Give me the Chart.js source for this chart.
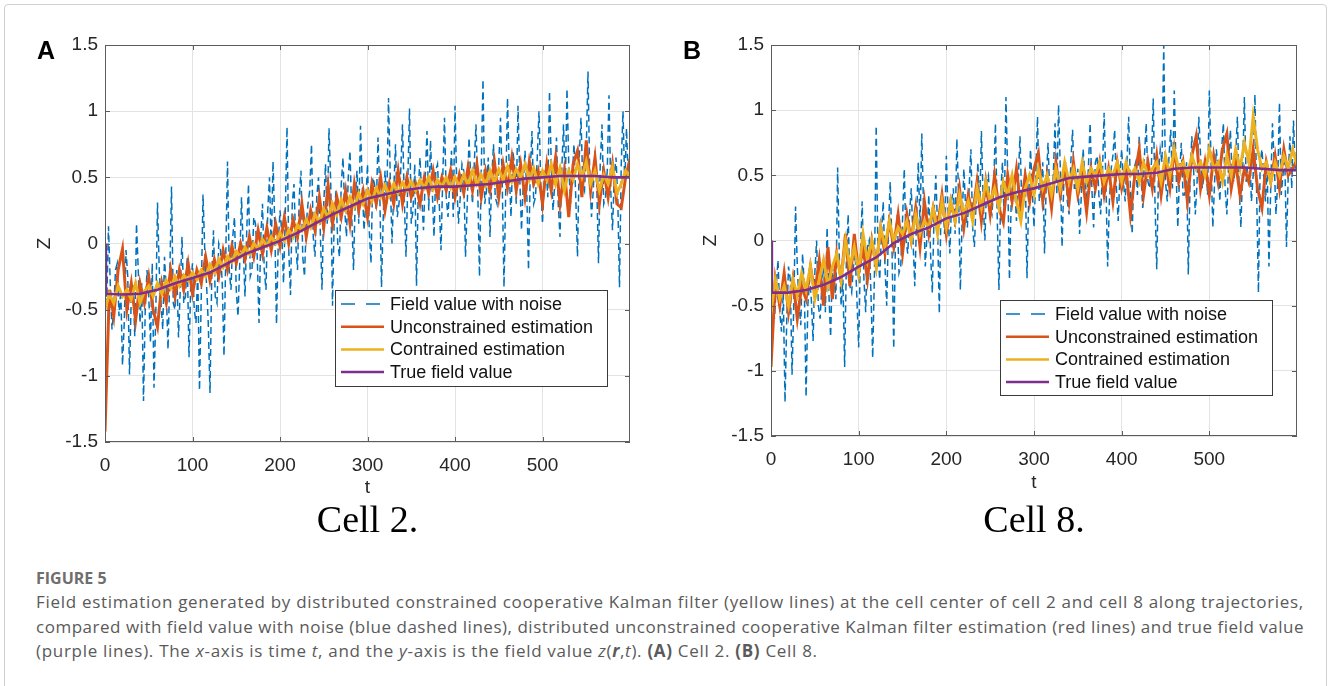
<!DOCTYPE html>
<html>
<head>
<meta charset="utf-8">
<script src="https://cdn.jsdelivr.net/npm/chart.js@4.4.1/dist/chart.umd.min.js"></script>
<style>
  body { margin: 0; background: #fff; width: 1328px; height: 686px; overflow: hidden; position: relative; }
  .panel { position: absolute; top: 0; }
  #frame { position: absolute; left: 4px; top: 4px; width: 1323px; height: 700px; border: 1px solid #d0d0d0; border-radius: 4px; box-sizing: border-box; }
  .cap { position: absolute; left: 36px; font-family: "Open Sans", Lato, sans-serif; color: #5a5a5a; font-size: 17px; white-space: nowrap; line-height: 20px; }
</style>
</head>
<body>
<div id="frame"></div>
<canvas id="chartA" class="panel" style="left:0px" width="660" height="545"></canvas>
<canvas id="chartB" class="panel" style="left:660px" width="668" height="545"></canvas>

<div class="cap" style="top:568px; font-weight:700; color:#6e6e6e; font-size:16px;">FIGURE 5</div>
<div class="cap" id="cap1" style="top:592px">Field estimation generated by distributed constrained cooperative Kalman filter (yellow lines) at the cell center of cell 2 and cell 8 along trajectories,</div>
<div class="cap" id="cap2" style="top:617px">compared with field value with noise (blue dashed lines), distributed unconstrained cooperative Kalman filter estimation (red lines) and true field value</div>
<div class="cap" id="cap3" style="top:641px">(purple lines). The <i>x</i>-axis is time <i>t</i>, and the <i>y</i>-axis is the field value <i>z</i>(<b><i>r</i></b>,<i>t</i>). <b>(A)</b> Cell 2. <b>(B)</b> Cell 8.</div>

<script>
// axis ticks (same for both cells)
const xTicks = [0, 100, 200, 300, 400, 500];
const yTicks = [-1.5, -1, -0.5, 0, 0.5, 1, 1.5];
const yTickLabels = ['-1.5', '-1', '-0.5', '0', '0.5', '1', '1.5'];

const seriesNames = ['Field value with noise', 'Unconstrained estimation', 'Contrained estimation', 'True field value'];
const seriesColors = ['#0072BD', '#D95319', '#EDB120', '#7E2F8E'];

// noisy field samples every 2 steps, estimates every 5 steps
const noiseStep = 2;
const estStep = 5;

// ---- Cell 2 ----
const noiseA = [
  -0.1, -0.45, 0.13, -0.3, -0.65, -0.5, -0.2, -0.15, -0.55, -0.35, -0.92, -0.6, -0.05, -0.25, -0.99, -0.4, -0.3, -0.7, 0.15, -0.2,
  -0.6, -0.3, -1.19, -0.5, -0.2, -0.4, -0.75, -0.15, -1.09, -0.55, 0.31, -0.2, -0.45, -0.65, -0.1, -0.35, -0.8, -0.25, 0.43, -0.45,
  -0.5, -0.2, -0.71, -0.35, 0.05, -0.45, -0.4, -0.1, -0.86, -0.3, -0.15, -0.5, -0.6, -0.2, -1.11, -0.4, 0.37, -0.05, -0.3, -0.6,
  -1.13, -0.25, 0.1, -0.4, -0.45, 0.0, -0.05, -0.3, -0.85, -0.1, 0.62, -0.2, -0.35, 0.05, 0.2, -0.35, -0.55, -0.15, 0.35, -0.05,
  -0.4, 0.1, 0.45, -0.25, -0.2, 0.2, 0.15, -0.1, -0.6, 0.05, 0.3, -0.2, -0.35, 0.25, 0.5, -0.05, 0.62, 0.15, -0.61, 0.0,
  0.25, 0.1, -0.3, 0.2, 0.88, -0.05, -0.39, 0.3, 0.45, 0.0, -0.2, 0.35, 0.55, -0.1, -0.25, 0.15, 0.3, 0.4, 0.75, 0.05,
  -0.1, 0.35, 0.5, 0.1, -0.35, 0.3, 0.6, 0.15, 0.87, 0.45, -0.47, 0.2, 0.4, 0.0, -0.1, 0.45, 0.65, 0.25, 0.05, 0.5,
  0.7, 0.2, -0.2, 0.35, 0.55, 0.15, 0.89, 0.45, 0.1, 0.3, 0.6, 0.1, -0.15, 0.5, 0.45, 0.25, 0.8, 0.4, -0.33, 0.2,
  0.55, 0.3, 1.10, 0.5, 0.0, 0.4, 0.75, 0.2, 0.3, 0.55, 0.9, 0.35, -0.1, 0.45, 1.02, 0.15, 0.25, 0.6, -0.32, 0.4,
  0.65, 0.35, 0.1, 0.5, 0.85, 0.25, 0.78, 0.4, 0.05, 0.55, 0.6, 0.3, -0.05, 0.5, 0.95, 0.35, 0.2, 0.45, 0.7, 0.2,
  1.04, 0.45, 0.15, 0.35, 0.6, 0.55, -0.1, 0.3, 0.8, 0.5, 0.3, 0.6, 0.9, 0.4, -0.25, 0.55, 1.24, 0.3, 0.4, 0.65,
  0.05, 0.5, 0.75, 0.35, 0.3, 0.6, 0.95, 0.45, -0.33, 0.4, 1.10, 0.55, 0.2, 0.7, 0.6, 0.3, 1.04, 0.5, 0.1, 0.45,
  0.7, 0.4, -0.2, 0.55, 0.85, 0.3, 0.35, 0.65, 1.0, 0.45, 0.15, 0.5, 0.6, 0.35, 1.15, 0.6, 0.25, 0.45, 0.8, 0.3,
  0.05, 0.55, 0.9, 0.4, 1.17, 0.6, 0.3, 0.5, 0.75, 0.35, -0.1, 0.65, 0.95, 0.45, 0.4, 0.7, 1.30, 0.5, 0.2, 0.4,
  0.7, 0.45, -0.15, 0.6, 0.9, 0.3, 0.35, 0.55, 1.12, 0.4, 0.1, 0.5, 0.65, 0.35, -0.33, 0.6, 1.0, 0.45, 0.87, 0.5
];
const unconA = [
  -1.42, -0.35, -0.55, -0.2, -0.04, -0.5, -0.3, -0.58, -0.3, -0.45,
  -0.25, -0.5, -0.63, -0.3, -0.45, -0.2, -0.4, -0.2, -0.35, -0.15,
  -0.38, -0.2, -0.3, -0.1, -0.28, -0.12, -0.25, -0.05, -0.2, -0.02,
  -0.15, 0.0, -0.12, 0.05, -0.1, 0.1, -0.08, 0.12, -0.05, 0.15,
  -0.02, 0.2, 0.0, 0.18, 0.05, 0.3, 0.05, 0.25, 0.1, 0.35,
  0.12, 0.44, 0.15, 0.35, 0.2, 0.4, 0.15, 0.45, 0.25, 0.4,
  0.2, 0.45, 0.3, 0.5, 0.25, 0.45, 0.3, 0.55, 0.3, 0.5,
  0.35, 0.45, 0.3, 0.5, 0.38, 0.55, 0.35, 0.5, 0.4, 0.55,
  0.35, 0.52, 0.38, 0.58, 0.4, 0.6, 0.35, 0.55, 0.4, 0.62,
  0.35, 0.6, 0.42, 0.65, 0.4, 0.6, 0.35, 0.62, 0.45, 0.55,
  0.3, 0.6, 0.4, 0.65, 0.3, 0.55, 0.2, 0.6, 0.7, 0.35,
  0.78, 0.4, 0.65, 0.3, 0.55, 0.35, 0.6, 0.3, 0.27, 0.5,
  0.64
];
const conA = [
  -0.5, -0.38, -0.45, -0.32, -0.4, -0.35, -0.42, -0.3, -0.45, -0.36,
  -0.32, -0.4, -0.3, -0.38, -0.28, -0.34, -0.25, -0.32, -0.24, -0.28,
  -0.22, -0.27, -0.2, -0.25, -0.16, -0.22, -0.12, -0.18, -0.1, -0.14,
  -0.06, -0.1, -0.03, -0.08, 0.0, -0.04, 0.03, -0.02, 0.05, 0.0,
  0.08, 0.02, 0.1, 0.05, 0.14, 0.1, 0.18, 0.12, 0.22, 0.16,
  0.26, 0.2, 0.3, 0.22, 0.33, 0.25, 0.35, 0.28, 0.38, 0.3,
  0.4, 0.32, 0.42, 0.35, 0.44, 0.36, 0.45, 0.38, 0.46, 0.4,
  0.47, 0.4, 0.48, 0.42, 0.5, 0.41, 0.48, 0.43, 0.5, 0.42,
  0.5, 0.43, 0.52, 0.44, 0.55, 0.45, 0.52, 0.44, 0.55, 0.46,
  0.56, 0.48, 0.58, 0.47, 0.56, 0.5, 0.6, 0.48, 0.57, 0.45,
  0.55, 0.48, 0.6, 0.45, 0.57, 0.4, 0.55, 0.48, 0.6, 0.5,
  0.62, 0.45, 0.55, 0.4, 0.52, 0.45, 0.58, 0.38, 0.45, 0.55,
  0.5
];
const trueT = [0, 1, 20, 40, 60, 80, 100, 120, 140, 160, 180, 200, 220, 240, 260, 280, 300,
  320, 340, 360, 380, 400, 420, 440, 460, 480, 500, 520, 540, 560, 580, 600];
const trueA = [0, -0.38, -0.385, -0.38, -0.35, -0.3, -0.26, -0.22, -0.15, -0.08, -0.03, 0.02, 0.08, 0.15, 0.22, 0.28, 0.34,
  0.37, 0.40, 0.42, 0.43, 0.43, 0.44, 0.45, 0.47, 0.49, 0.5, 0.51, 0.51, 0.51, 0.5, 0.5];

// ---- Cell 8 ----
const noiseB = [
  -0.3, -0.45, -0.6, -0.35, -0.15, -0.55, -0.7, -0.4, -1.24, -0.6, -0.2, -0.3, -1.03, -0.5, 0.26, -0.2, -0.5, -0.65, -0.1, -0.35,
  -1.2, -0.5, -0.3, -0.45, -0.77, -0.25, 0.0, -0.5, -0.6, -0.35, -0.2, -0.55, 0.1, -0.4, -0.74, -0.2, -0.3, -0.45, 0.56, -0.15,
  -0.5, -0.3, -0.97, -0.15, 0.2, -0.35, -0.4, -0.2, -0.1, -0.45, -0.82, -0.1, 0.3, -0.3, -0.55, -0.05, 0.0, -0.4, -0.9, -0.25,
  0.88, -0.1, -0.3, 0.05, 0.3, -0.2, -0.5, 0.1, 0.45, -0.05, -0.83, 0.0, 0.2, -0.25, -0.2, 0.15, 0.55, 0.0, -0.1, 0.2,
  0.4, 0.0, -0.35, 0.15, 0.6, 0.1, 0.82, 0.25, -0.2, 0.05, 0.35, -0.1, -0.4, 0.2, 0.5, 0.1, -0.56, 0.3, 0.3, 0.05,
  0.65, 0.2, -0.1, 0.3, 0.4, 0.05, 0.78, 0.35, -0.38, 0.15, 0.55, 0.25, 0.1, 0.4, 0.7, 0.1, -0.05, 0.3, 0.6, 0.2,
  0.84, 0.3, 0.0, 0.45, 0.5, 0.25, 0.2, 0.4, 0.9, 0.2, -0.38, 0.35, 0.6, 0.15, 1.10, 0.5, -0.3, 0.3, 0.45, 0.4,
  0.15, 0.45, 0.8, 0.3, 0.3, 0.55, -0.29, 0.35, 0.7, 0.4, 0.1, 0.5, 0.95, 0.3, 0.4, 0.6, -0.1, 0.45, 0.75, 0.35,
  0.25, 0.5, 0.9, 0.35, 1.04, 0.55, -0.05, 0.45, 0.6, 0.3, 0.2, 0.6, 0.85, 0.4, 0.4, 0.55, 0.05, 0.35, 0.7, 0.5,
  0.3, 0.55, 0.9, 0.4, 0.1, 0.6, 0.65, 0.35, 0.2, 0.5, 0.98, 0.45, -0.2, 0.3, 0.55, 0.65, 0.85, 0.4, 0.15, 0.5,
  0.7, 0.45, 0.3, 0.6, 0.95, 0.4, 0.05, 0.55, 0.6, 0.35, 0.8, 0.5, 0.25, 0.65, 0.9, 0.45, 0.4, 0.6, 1.09, 0.3,
  -0.22, 0.5, 0.7, 0.6, 1.5, 0.45, 0.3, 0.65, 0.85, 0.4, 1.15, 0.55, 0.1, 0.5, 0.75, 0.35, 0.35, 0.6, -0.26, 0.45,
  0.8, 0.55, 0.2, 0.45, 0.95, 0.65, 0.4, 0.5, 0.6, 0.35, 1.15, 0.6, 0.1, 0.45, 0.7, 0.55, 0.3, 0.7, 0.9, 0.4,
  0.2, 0.6, 0.85, 0.5, 0.45, 0.65, 0.95, 0.4, 0.1, 0.55, 1.1, 0.45, 0.6, 0.7, 0.3, 0.5, 1.12, 0.35, -0.4, 0.6,
  0.7, 0.5, 0.3, 0.55, -0.2, 0.4, 0.9, 0.6, 0.2, 0.45, 1.06, 0.35, 0.5, 0.65, -0.05, 0.5, 0.8, 0.4, 0.92, 0.55
];
const unconB = [
  -0.97, -0.3, -0.5, -0.25, -0.55, -0.3, -0.6, -0.35, -0.45, -0.2,
  -0.4, -0.15, -0.5, -0.05, -0.45, -0.1, -0.3, 0.05, -0.35, 0.05,
  -0.25, -0.05, -0.3, 0.0, -0.2, 0.1, -0.1, 0.15, -0.05, 0.2,
  -0.1, 0.2, 0.0, 0.25, -0.05, 0.3, 0.05, 0.25, 0.1, 0.35,
  0.05, 0.3, 0.15, 0.4, 0.1, 0.35, 0.2, 0.45, 0.15, 0.45,
  0.2, 0.5, 0.25, 0.14, 0.5, 0.3, 0.55, 0.25, 0.5, 0.3,
  0.55, 0.67, 0.3, 0.5, 0.25, 0.6, 0.35, 0.55, 0.3, 0.6,
  0.35, 0.5, 0.22, 0.55, 0.4, 0.6, 0.35, 0.55, 0.3, 0.6,
  0.4, 0.55, 0.2, 0.5, 0.7, 0.35, 0.6, 0.4, 0.65, 0.35,
  0.6, 0.4, 0.7, 0.45, 0.6, 0.3, 0.65, 0.8, 0.4, 0.6,
  0.35, 0.65, 0.45, 0.7, 0.82, 0.4, 0.6, 0.35, 0.55, 0.45,
  0.7, 0.4, 0.25, 0.6, 0.45, 0.65, 0.4, 0.7, 0.5, 0.55,
  0.62
];
const conB = [
  -0.55, -0.3, -0.45, -0.35, -0.5, -0.3, -0.42, -0.25, -0.38, -0.2,
  -0.45, -0.3, -0.15, -0.35, -0.2, -0.1, -0.3, 0.0, -0.2, -0.05,
  -0.25, 0.05, -0.15, 0.0, -0.2, 0.1, -0.05, 0.15, 0.0, 0.1,
  0.05, 0.15, 0.0, 0.2, 0.05, 0.15, 0.1, 0.25, 0.05, 0.3,
  0.1, 0.3, 0.15, 0.35, 0.2, 0.3, 0.15, 0.4, 0.25, 0.45,
  0.3, 0.4, 0.25, 0.45, 0.35, 0.5, 0.3, 0.15, 0.4, 0.5,
  0.35, 0.55, 0.4, 0.5, 0.35, 0.55, 0.4, 0.6, 0.45, 0.55,
  0.4, 0.6, 0.45, 0.55, 0.5, 0.6, 0.45, 0.55, 0.5, 0.6,
  0.45, 0.6, 0.5, 0.55, 0.45, 0.6, 0.5, 0.55, 0.6, 0.45,
  0.65, 0.5, 0.7, 0.55, 0.6, 0.5, 0.65, 0.55, 0.6, 0.5,
  0.7, 0.55, 0.6, 0.45, 0.65, 0.5, 0.7, 0.55, 0.75, 0.6,
  0.95, 0.7, 0.55, 0.6, 0.45, 0.6, 0.5, 0.65, 0.55, 0.7,
  0.58
];
const trueB = [0, -0.4, -0.4, -0.38, -0.34, -0.28, -0.2, -0.13, -0.02, 0.05, 0.1, 0.17, 0.21, 0.27, 0.33, 0.37, 0.40,
  0.44, 0.48, 0.49, 0.5, 0.51, 0.51, 0.52, 0.55, 0.56, 0.56, 0.56, 0.56, 0.55, 0.54, 0.54];

// turn a value list into {x,y} points
function stepPoints(values, step) {
  return values.map((v, i) => ({ x: i * step, y: v }));
}
function pairPoints(ts, values) {
  return values.map((v, i) => ({ x: ts[i], y: v }));
}

const tickFont = { family: '"Liberation Sans", Arial, sans-serif', size: 19 };

// box, inner ticks, labels and legend, drawn on top the way matlab does
function decorPlugin(cfg) {
  return {
    id: 'decor',
    afterDatasetsDraw(chart) {
      const ctx = chart.ctx;
      const a = chart.chartArea;
      const xs = chart.scales.x, ys = chart.scales.y;
      ctx.save();
      ctx.strokeStyle = '#5c5c5c';
      ctx.lineWidth = 1;
      ctx.strokeRect(a.left + 0.5, a.top + 0.5, a.right - a.left - 1, a.bottom - a.top - 1);
      ctx.beginPath();
      xTicks.forEach(v => {
        const px = Math.round(xs.getPixelForValue(v)) + 0.5;
        ctx.moveTo(px, a.bottom); ctx.lineTo(px, a.bottom - 5);
        ctx.moveTo(px, a.top); ctx.lineTo(px, a.top + 5);
      });
      yTicks.forEach(v => {
        const py = Math.round(ys.getPixelForValue(v)) + 0.5;
        ctx.moveTo(a.left, py); ctx.lineTo(a.left + 5, py);
        ctx.moveTo(a.right, py); ctx.lineTo(a.right - 5, py);
      });
      ctx.stroke();

      // legend box
      const L = cfg.legend;
      ctx.fillStyle = '#fff';
      ctx.fillRect(L.x, L.y, L.w, L.h);
      ctx.strokeStyle = '#3a3a3a';
      ctx.strokeRect(L.x + 0.5, L.y + 0.5, L.w, L.h);
      ctx.font = '18px "Liberation Sans", Arial, sans-serif';
      ctx.textBaseline = 'middle';
      ctx.textAlign = 'left';
      seriesNames.forEach((name, i) => {
        const cy = L.y + 14 + i * 22.7;
        ctx.beginPath();
        ctx.strokeStyle = seriesColors[i];
        ctx.lineWidth = i === 0 ? 1.5 : 2.5;
        ctx.setLineDash(i === 0 ? [14, 11] : []);
        ctx.moveTo(L.x + 6, cy); ctx.lineTo(L.x + 49, cy);
        ctx.stroke();
        ctx.setLineDash([]);
        ctx.fillStyle = '#111';
        ctx.fillText(name, L.x + 55, cy + 1);
      });

      // axis names, panel letter, cell caption
      const midX = (a.left + a.right) / 2;
      const midY = (a.top + a.bottom) / 2;
      ctx.fillStyle = '#262626';
      ctx.font = '19px "Liberation Sans", Arial, sans-serif';
      ctx.textAlign = 'center';
      ctx.textBaseline = 'middle';
      ctx.fillText('t', midX, cfg.tY);
      ctx.save();
      ctx.translate(a.left - 60, midY);
      ctx.rotate(-Math.PI / 2);
      ctx.fillText('Z', 0, 0);
      ctx.restore();

      ctx.fillStyle = '#000';
      ctx.font = 'bold 25px "Liberation Sans", Arial, sans-serif';
      ctx.textAlign = 'left';
      ctx.textBaseline = 'alphabetic';
      ctx.fillText(cfg.letter, cfg.letterX, 59);

      ctx.font = '38px "Liberation Serif", "Times New Roman", serif';
      ctx.textAlign = 'center';
      ctx.fillText(cfg.cell, midX, 532);
      ctx.restore();
    }
  };
}

function makeChart(canvasId, cfg) {
  const datasets = [
    { label: seriesNames[0], data: stepPoints(cfg.noise, noiseStep), borderColor: seriesColors[0],
      borderWidth: 1.5, borderDash: [7, 4], order: 4 },
    { label: seriesNames[1], data: stepPoints(cfg.uncon, estStep), borderColor: seriesColors[1],
      borderWidth: 3, order: 3 },
    { label: seriesNames[2], data: stepPoints(cfg.con, estStep), borderColor: seriesColors[2],
      borderWidth: 3, order: 2 },
    { label: seriesNames[3], data: pairPoints(trueT, cfg.truth), borderColor: seriesColors[3],
      borderWidth: 2.6, order: 1 }
  ];
  datasets.forEach(d => { d.pointRadius = 0; d.fill = false; d.tension = 0; });

  return new Chart(document.getElementById(canvasId), {
    type: 'line',
    data: { datasets: datasets },
    options: {
      responsive: false,
      animation: false,
      events: [],
      layout: { padding: { left: 0, top: 45, right: cfg.padRight, bottom: 0 } },
      plugins: { legend: { display: false }, tooltip: { enabled: false } },
      scales: {
        x: {
          type: 'linear', min: 0, max: 600,
          afterBuildTicks: s => { s.ticks = xTicks.map(v => ({ value: v })); },
          afterFit: s => { s.height = cfg.xAxisH; },
          grid: { color: '#e3e3e3', drawTicks: false },
          border: { display: false },
          ticks: { padding: 12, color: '#262626', font: tickFont, maxRotation: 0, callback: v => String(v) }
        },
        y: {
          type: 'linear', min: -1.5, max: 1.5,
          afterBuildTicks: s => { s.ticks = yTicks.map(v => ({ value: v })); },
          afterFit: s => { s.width = cfg.yAxisW; },
          grid: { color: '#e3e3e3', drawTicks: false },
          border: { display: false },
          ticks: { padding: 7, color: '#262626', font: tickFont,
            callback: v => yTickLabels[yTicks.indexOf(v)] }
        }
      }
    },
    plugins: [decorPlugin(cfg)]
  });
}

makeChart('chartA', {
  noise: noiseA, uncon: unconA, con: conA, truth: trueA,
  padRight: 30, xAxisH: 103, yAxisW: 105,
  legend: { x: 335, y: 290, w: 272, h: 96 },
  tY: 488, letter: 'A', letterX: 37, cell: 'Cell 2.'
});
makeChart('chartB', {
  noise: noiseB, uncon: unconB, con: conB, truth: trueB,
  padRight: 31, xAxisH: 109, yAxisW: 111,
  legend: { x: 340, y: 300, w: 272, h: 95 },
  tY: 483, letter: 'B', letterX: 23, cell: 'Cell 8.'
});

// stretch the caption lines to the width they have in the figure
function fitCaption(id, target) {
  const el = document.getElementById(id);
  const n = el.textContent.length;
  const w = el.getBoundingClientRect().width;
  const ls = (target - w) / n;
  el.style.letterSpacing = ls.toFixed(3) + 'px';
  return ls;
}
const capSpacing = fitCaption('cap1', 1268);
fitCaption('cap2', 1268);
document.getElementById('cap3').style.letterSpacing = capSpacing.toFixed(3) + 'px';
</script>
</body>
</html>
